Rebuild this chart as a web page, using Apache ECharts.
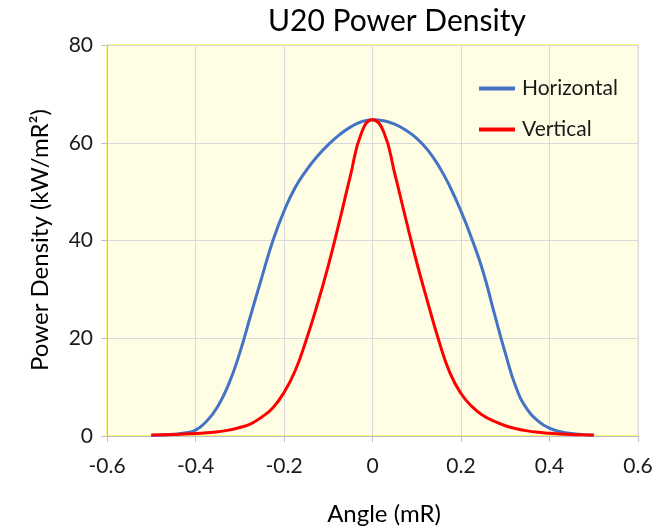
<!DOCTYPE html>
<html>
<head>
<meta charset="utf-8">
<script src="https://cdn.jsdelivr.net/npm/echarts@6/dist/echarts.min.js"></script>
<style>
  html, body { margin: 0; padding: 0; background: #ffffff; }
  #chart { width: 659px; height: 526px; }
</style>
</head>
<body>
<div id="chart"></div>
<script>
// Angle samples (mR)
const angle = [
  -0.5, -0.475, -0.45, -0.425, -0.4, -0.375, -0.35, -0.325, -0.3, -0.275,
  -0.25, -0.225, -0.2, -0.175, -0.15, -0.125, -0.1, -0.075, -0.05, -0.025,
  0,
  0.025, 0.05, 0.075, 0.1, 0.125, 0.15, 0.175, 0.2, 0.225,
  0.25, 0.275, 0.3, 0.325, 0.35, 0.375, 0.4, 0.425, 0.45, 0.475, 0.5
];

// Power density, horizontal plane (kW/mR²)
const horizontal = [
  0.1, 0.2, 0.35, 0.6, 1.2, 3.0, 6.0, 10.6, 17.0, 24.8,
  32.5, 40.0, 46.0, 50.8, 54.3, 57.2, 59.6, 61.6, 63.2, 64.3,
  64.7,
  64.5, 63.8, 62.6, 60.9, 58.5, 55.2, 51.0, 46.0, 40.2,
  33.6, 25.2, 17.0, 9.8, 5.4, 3.0, 1.6, 0.9, 0.5, 0.3, 0.15
];

// Power density, vertical plane (kW/mR²)
const vertical = [
  0.2, 0.25, 0.3, 0.4, 0.5, 0.65, 0.85, 1.2, 1.75, 2.5,
  3.9, 5.8, 8.9, 13.3, 19.6, 26.8, 34.8, 43.8, 53.2, 62.0,
  64.7,
  62.3, 53.8, 44.5, 35.5, 27.3, 19.5, 12.9, 8.7, 6.0,
  4.2, 3.0, 2.1, 1.5, 1.05, 0.75, 0.55, 0.42, 0.32, 0.25, 0.2
];

const seriesNames = ['Horizontal', 'Vertical'];
const titleText = 'U20 Power Density';
const xAxisTitle = 'Angle (mR)';
const yAxisTitle = 'Power Density (kW/mR²)';

const FONT = 'Lato, "Open Sans", sans-serif';

const chart = echarts.init(document.getElementById('chart'), null, { renderer: 'canvas' });

const pairs = (ys) => angle.map((a, i) => [a, ys[i]]);

chart.setOption({
  animation: false,
  backgroundColor: '#ffffff',
  textStyle: { fontFamily: FONT },
  grid: {
    left: 107, right: 21, top: 45, bottom: 90,
    show: true,
    backgroundColor: '#FFFDE4',
    borderColor: '#F5F000',
    borderWidth: 1
  },
  graphic: [
    {
      type: 'text', left: 268, top: 6,
      style: { text: titleText, font: '30px ' + FONT, fill: '#000000' }
    },
    {
      type: 'text', x: 384, y: 514,
      style: { text: xAxisTitle, font: '24px ' + FONT, fill: '#000000',
               align: 'center', verticalAlign: 'middle' }
    },
    {
      type: 'text', x: 40, y: 240, rotation: Math.PI / 2,
      style: { text: yAxisTitle, font: '24px ' + FONT, fill: '#000000',
               align: 'center', verticalAlign: 'middle' }
    }
  ],
  legend: {
    orient: 'vertical',
    left: 474,
    top: 73,
    itemWidth: 36,
    itemHeight: 4,
    itemGap: 20,
    icon: 'rect',
    textStyle: { fontFamily: FONT, fontSize: 21, color: '#1a1a1a', padding: [0, 0, 0, 2] },
    data: seriesNames
  },
  xAxis: {
    type: 'value',
    min: -0.6, max: 0.6, interval: 0.2,
    axisLine: { onZero: false, lineStyle: { color: '#BFBFBF', width: 1 } },
    axisTick: { show: true, length: 6, lineStyle: { color: '#BFBFBF' } },
    axisLabel: {
      margin: 20, fontSize: 21, fontFamily: FONT, color: '#1a1a1a',
      formatter: (v) => String(Math.round(v * 10) / 10)
    },
    splitLine: { show: true, lineStyle: { color: '#D9D9D9', width: 1 } }
  },
  yAxis: {
    type: 'value',
    min: 0, max: 80, interval: 20,
    axisLine: { show: true, onZero: false, lineStyle: { color: '#BFBFBF', width: 1 } },
    axisTick: { show: true, length: 6, lineStyle: { color: '#BFBFBF' } },
    axisLabel: { margin: 14, fontSize: 21, fontFamily: FONT, color: '#1a1a1a' },
    splitLine: { show: true, lineStyle: { color: '#D9D9D9', width: 1 } }
  },
  series: [
    {
      name: seriesNames[0], type: 'line', data: pairs(horizontal),
      showSymbol: false, smooth: 0.5,
      lineStyle: { color: '#4472C4', width: 3 },
      itemStyle: { color: '#4472C4' }
    },
    {
      name: seriesNames[1], type: 'line', data: pairs(vertical),
      showSymbol: false, smooth: 0.5,
      lineStyle: { color: '#FF0000', width: 3 },
      itemStyle: { color: '#FF0000' }
    }
  ]
});
</script>
</body>
</html>
